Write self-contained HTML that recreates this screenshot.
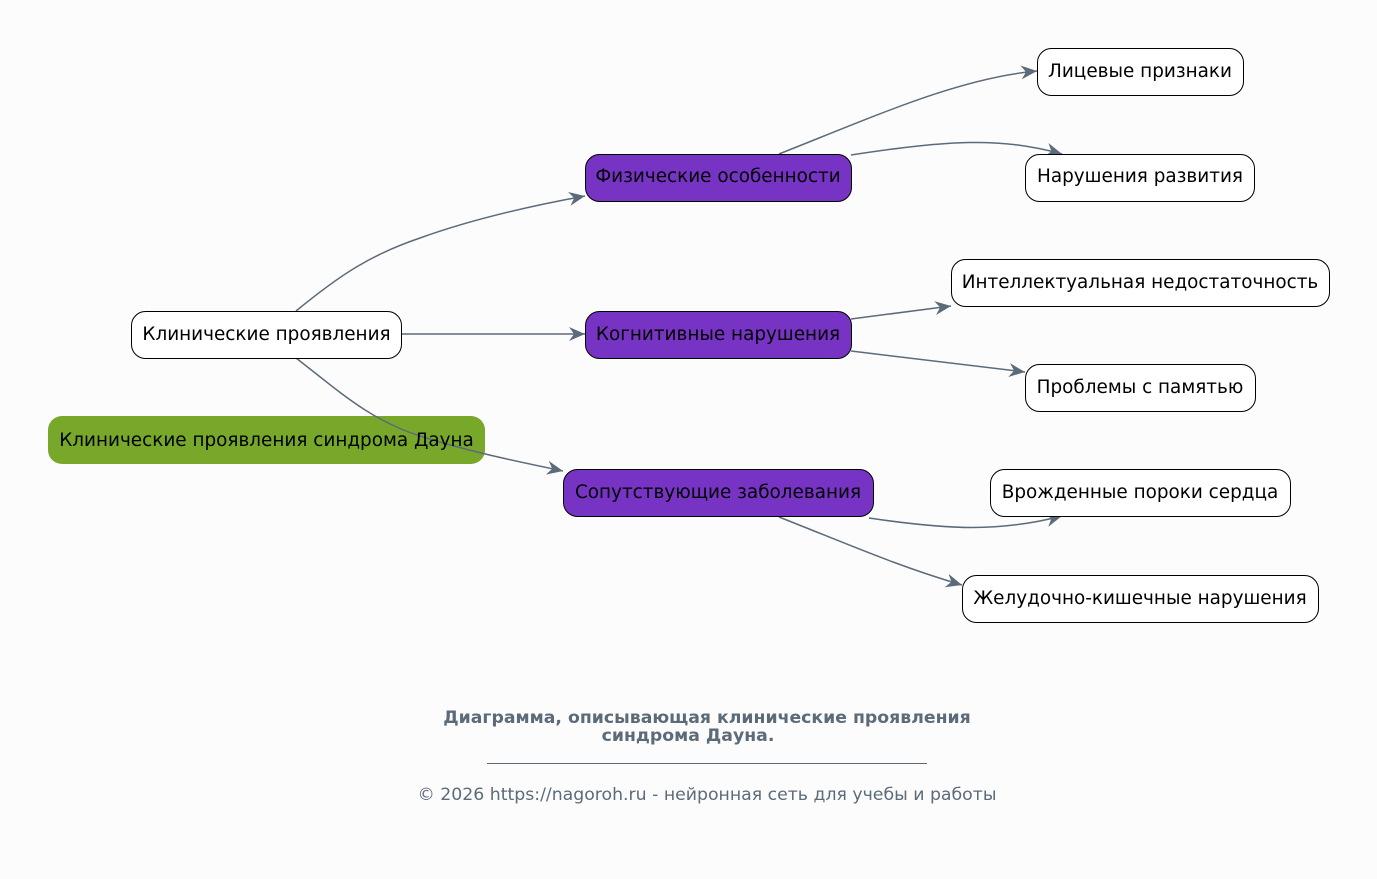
<!DOCTYPE html>
<html><head><meta charset="utf-8"><style>
html,body{margin:0;padding:0;background:#fcfcfc;}
svg{display:block;font-family:"DejaVu Sans","Liberation Sans",sans-serif;}
</style></head><body>
<svg width="1377" height="879" viewBox="0 0 1377 879" xmlns="http://www.w3.org/2000/svg">
<defs>
<marker id="a" viewBox="0 0 20 20" refX="18" refY="10" markerWidth="20" markerHeight="20" markerUnits="userSpaceOnUse" orient="auto">
<path d="M2,3 L18,10 L2,17 L7,10 Z" fill="#5c6b7a"/>
</marker>
</defs>
<rect width="1377" height="879" fill="#fcfcfc"/>
<rect x="48" y="416" width="437" height="48" rx="14" fill="#77a82a"/>
<g fill="none" stroke="#5c6b7a" stroke-width="1.5">
<path d="M296,311 C340,275 370,255 420,238 C470,220 530,206 585,196" marker-end="url(#a)"/>
<path d="M401,334 L585,334" marker-end="url(#a)"/>
<path d="M296,358 C340,392 370,420 420,436 C470,452 520,462 563,471" marker-end="url(#a)"/>
<path d="M779,154 C880,114 960,78 1037,71" marker-end="url(#a)"/>
<path d="M851,155 C950,140 1000,137 1062,154" marker-end="url(#a)"/>
<path d="M851,319 L951,306" marker-end="url(#a)"/>
<path d="M851,351 L1025,372" marker-end="url(#a)"/>
<path d="M869,518 C950,530 1000,532 1062,516" marker-end="url(#a)"/>
<path d="M779,517 C850,545 900,567 962,585" marker-end="url(#a)"/>
</g>
<g font-size="18.4" text-anchor="middle" fill="#000">
<text x="266.5" y="446">Клинические проявления синдрома Дауна</text>
<rect x="131.5" y="311.5" width="270" height="47" rx="14" fill="#fff" stroke="#000"/>
<text x="266.5" y="340">Клинические проявления</text>
<rect x="585.5" y="154.5" width="266" height="47" rx="14" fill="#7734c4" stroke="#000"/>
<text x="718" y="182">Физические особенности</text>
<rect x="585.5" y="311.5" width="266" height="47" rx="14" fill="#7734c4" stroke="#000"/>
<text x="718" y="340">Когнитивные нарушения</text>
<rect x="563.5" y="469.5" width="310" height="47" rx="14" fill="#7734c4" stroke="#000"/>
<text x="718" y="498">Сопутствующие заболевания</text>
<rect x="1037.5" y="48.5" width="206" height="47" rx="14" fill="#fff" stroke="#000"/>
<text x="1140" y="77">Лицевые признаки</text>
<rect x="1025.5" y="154.5" width="229" height="47" rx="14" fill="#fff" stroke="#000"/>
<text x="1140" y="182">Нарушения развития</text>
<rect x="951.5" y="259.5" width="378" height="47" rx="14" fill="#fff" stroke="#000"/>
<text x="1140" y="288">Интеллектуальная недостаточность</text>
<rect x="1025.5" y="364.5" width="230" height="47" rx="14" fill="#fff" stroke="#000"/>
<text x="1140" y="393">Проблемы с памятью</text>
<rect x="990.5" y="469.5" width="300" height="47" rx="14" fill="#fff" stroke="#000"/>
<text x="1140" y="498">Врожденные пороки сердца</text>
<rect x="962.5" y="575.5" width="356" height="47" rx="14" fill="#fff" stroke="#000"/>
<text x="1140" y="604">Желудочно-кишечные нарушения</text>
</g>
<g fill="#5c6b7a" text-anchor="middle" font-size="17.3">
<text x="707" y="723" font-weight="bold">Диаграмма, описывающая клинические проявления</text>
<text x="688" y="741" font-weight="bold">синдрома Дауна.</text>
<line x1="487" y1="763.5" x2="927" y2="763.5" stroke="#5c6b7a" stroke-width="1"/>
<text x="707" y="800">© 2026 https://nagoroh.ru - нейронная сеть для учебы и работы</text>
</g>
</svg>
</body></html>
